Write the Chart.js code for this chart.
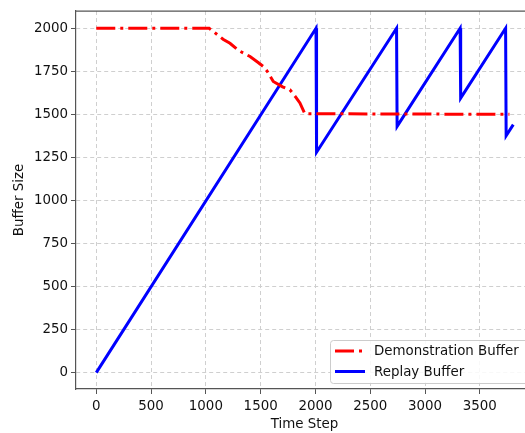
<!DOCTYPE html>
<html>
<head>
<meta charset="utf-8">
<script src="https://cdn.jsdelivr.net/npm/chart.js@4.4.0/dist/chart.umd.min.js"></script>
<style>
  html, body { margin: 0; padding: 0; background: #fff; overflow: hidden; }
  #wrap { width: 545px; height: 433px; }
</style>
</head>
<body>
<div id="wrap"><canvas id="chart"></canvas></div>
<script>
// Demonstration buffer (time step, size)
const demoSteps = [0, 1030, 1100, 1160, 1220, 1300, 1403, 1480, 1524, 1560, 1615, 1700, 1767, 1820, 1858, 1903, 3770];
const demoSizes = [2000, 2000, 1965, 1935, 1913, 1870, 1836, 1800, 1778, 1750, 1691, 1660, 1643, 1600, 1566, 1504, 1500];

// Replay buffer (time step, size)
const replaySteps = [0, 2005, 2010, 2740, 2745, 3320, 3325, 3735, 3740, 3805];
const replaySizes = [0, 2000, 1280, 2000, 1430, 2000, 1594, 2000, 1376, 1440];

const xTicks = [0, 500, 1000, 1500, 2000, 2500, 3000, 3500];
const yTicks = [0, 250, 500, 750, 1000, 1250, 1500, 1750, 2000];

function toPoints(xs, ys) {
    return xs.map((x, i) => ({ x: x, y: ys[i] }));
}

const font = { family: "DejaVu Sans", size: 13.4 };

// matplotlib style frame (top spine) + legend box in the lower right
const boxLegend = {
    id: 'boxLegend',
    afterDraw(chart) {
        const ctx = chart.ctx;
        const a = chart.chartArea;
        ctx.save();
        ctx.strokeStyle = '#555';
        ctx.lineWidth = 1.2;
        ctx.beginPath();
        ctx.moveTo(a.left, a.top);
        ctx.lineTo(a.right, a.top);
        ctx.stroke();

        const x = 330, y = 340, w = 240, h = 43;
        ctx.fillStyle = 'rgba(255,255,255,0.85)';
        ctx.strokeStyle = '#cccccc';
        ctx.lineWidth = 1;
        ctx.beginPath();
        ctx.roundRect(x + 0.5, y + 0.5, w, h, 3);
        ctx.fill();
        ctx.stroke();
        ctx.font = '13.4px "DejaVu Sans"';
        ctx.textBaseline = 'middle';
        chart.data.datasets.forEach((ds, i) => {
            const cy = y + 11 + i * 20.5;
            ctx.strokeStyle = ds.borderColor;
            ctx.lineWidth = 3;
            ctx.setLineDash(ds.borderDash || []);
            ctx.beginPath();
            ctx.moveTo(335, cy);
            ctx.lineTo(365, cy);
            ctx.stroke();
            ctx.setLineDash([]);
            ctx.fillStyle = '#111';
            ctx.fillText(ds.label, 374, cy + 1);
        });
        ctx.restore();
    }
};

new Chart(document.getElementById('chart'), {
    type: 'scatter',
    data: {
        datasets: [
            {
                label: 'Demonstration Buffer',
                data: toPoints(demoSteps, demoSizes),
                showLine: true,
                borderColor: '#ff0000',
                backgroundColor: '#ff0000',
                borderWidth: 3,
                borderDash: [19, 5, 3, 5],
                borderCapStyle: 'butt',
                pointRadius: 0,
                tension: 0
            },
            {
                label: 'Replay Buffer',
                data: toPoints(replaySteps, replaySizes),
                showLine: true,
                borderColor: '#0000ff',
                backgroundColor: '#0000ff',
                borderWidth: 3,
                pointRadius: 0,
                tension: 0
            }
        ]
    },
    options: {
        responsive: true,
        maintainAspectRatio: false,
        animation: false,
        layout: { padding: { top: 11, right: 12, left: 0, bottom: 0 } },
        scales: {
            x: {
                type: 'linear',
                min: -185,
                max: 3985,
                afterBuildTicks: (s) => { s.ticks = xTicks.map(v => ({ value: v })); },
                afterFit: (s) => { s.height = 44; },
                ticks: { font: font, color: '#111', padding: 4, maxRotation: 0, callback: (v) => String(v) },
                grid: {
                    color: '#cfcfcf',
                    tickColor: '#555',
                    tickLength: 5,
                    tickBorderDash: []
                },
                border: { display: true, color: '#555', width: 1.2, dash: [4, 3] },
                title: { display: true, text: 'Time Step', font: font, color: '#111', padding: { top: 0, bottom: 0 } }
            },
            y: {
                min: -95,
                max: 2100,
                afterBuildTicks: (s) => { s.ticks = yTicks.map(v => ({ value: v })); },
                afterFit: (s) => { s.width = 76; },
                ticks: { font: font, color: '#111', padding: 3, callback: (v) => String(v) },
                grid: {
                    color: '#cfcfcf',
                    tickColor: '#555',
                    tickLength: 5,
                    tickBorderDash: []
                },
                border: { display: true, color: '#555', width: 1.2, dash: [4, 3] },
                title: { display: true, text: 'Buffer Size', font: font, color: '#111', padding: { top: 11, bottom: 0 } }
            }
        },
        plugins: {
            legend: { display: false },
            tooltip: { enabled: false }
        }
    },
    plugins: [boxLegend]
});
</script>
</body>
</html>
